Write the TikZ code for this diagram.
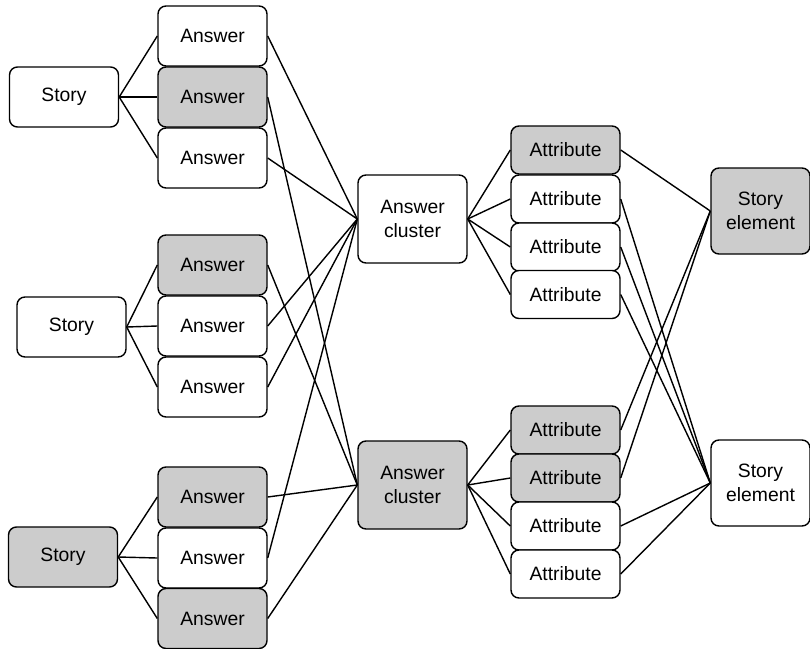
\documentclass[tikz,border=0pt]{standalone}
\usepackage{fontspec}
\setmainfont{Liberation Sans}
\usepackage{tikz}
\usetikzlibrary{positioning}
\definecolor{boxgray}{HTML}{CCCCCC}

\begin{document}
\begin{tikzpicture}[
    box/.style={draw=black, line width=0.8pt, rounded corners=0.16cm,
                fill=white, minimum width=2.18cm, minimum height=1.2cm,
                inner sep=0pt, align=center,
                font=\fontsize{11}{14}\selectfont},
    plain/.style={},
    shaded/.style={fill=boxgray},
    attrbox/.style={box, minimum height=0.96cm},
    clusterbox/.style={box, minimum height=1.76cm},
    elembox/.style={box, minimum width=1.98cm, minimum height=1.72cm},
    link/.style={line width=0.8pt}]
  \useasboundingbox (0,0) rectangle (16.2,-12.96);

  % stories
  \node[box]         (story1) at (1.28,-1.94)  {Story};
  \node[box]         (story2) at (1.43,-6.54)  {Story};
  \node[box, shaded] (story3) at (1.26,-11.14) {Story};

  % answers
  \foreach \i/\y/\sty in {%
      1/-0.72/plain, 2/-1.94/shaded, 3/-3.16/plain,
      4/-5.30/shaded, 5/-6.52/plain, 6/-7.74/plain,
      7/-9.94/shaded, 8/-11.16/plain, 9/-12.37/shaded}
  {
    \node[box, \sty] (ans\i) at (4.25,\y) {Answer};
  }

  % clusters
  \node[clusterbox]         (clu1) at (8.25,-4.38) {Answer\\cluster};
  \node[clusterbox, shaded] (clu2) at (8.25,-9.70) {Answer\\cluster};

  % attributes
  \foreach \i/\y/\sty in {%
      1/-3.00/shaded, 2/-3.98/plain, 3/-4.94/plain, 4/-5.89/plain,
      5/-8.60/shaded, 6/-9.56/shaded, 7/-10.52/plain, 8/-11.48/plain}
  {
    \node[attrbox, \sty] (att\i) at (11.31,\y) {Attribute};
  }

  % story elements
  \node[elembox, shaded] (elem1) at (15.21,-4.22) {Story\\element};
  \node[elembox]         (elem2) at (15.21,-9.66) {Story\\element};

  % links
  \foreach \s/\t in {%
      story1/ans1, story1/ans2, story1/ans3,
      story2/ans4, story2/ans5, story2/ans6,
      story3/ans7, story3/ans8, story3/ans9,
      ans1/clu1, ans2/clu2, ans3/clu1, ans4/clu2, ans5/clu1,
      ans6/clu1, ans7/clu2, ans8/clu1, ans9/clu2,
      clu1/att1, clu1/att2, clu1/att3, clu1/att4,
      clu2/att5, clu2/att6, clu2/att7, clu2/att8,
      att1/elem1, att2/elem2, att3/elem2, att4/elem2,
      att5/elem1, att6/elem1, att7/elem2, att8/elem2}
  {
    \draw[link] (\s.east) -- (\t.west);
  }
\end{tikzpicture}
\end{document}
